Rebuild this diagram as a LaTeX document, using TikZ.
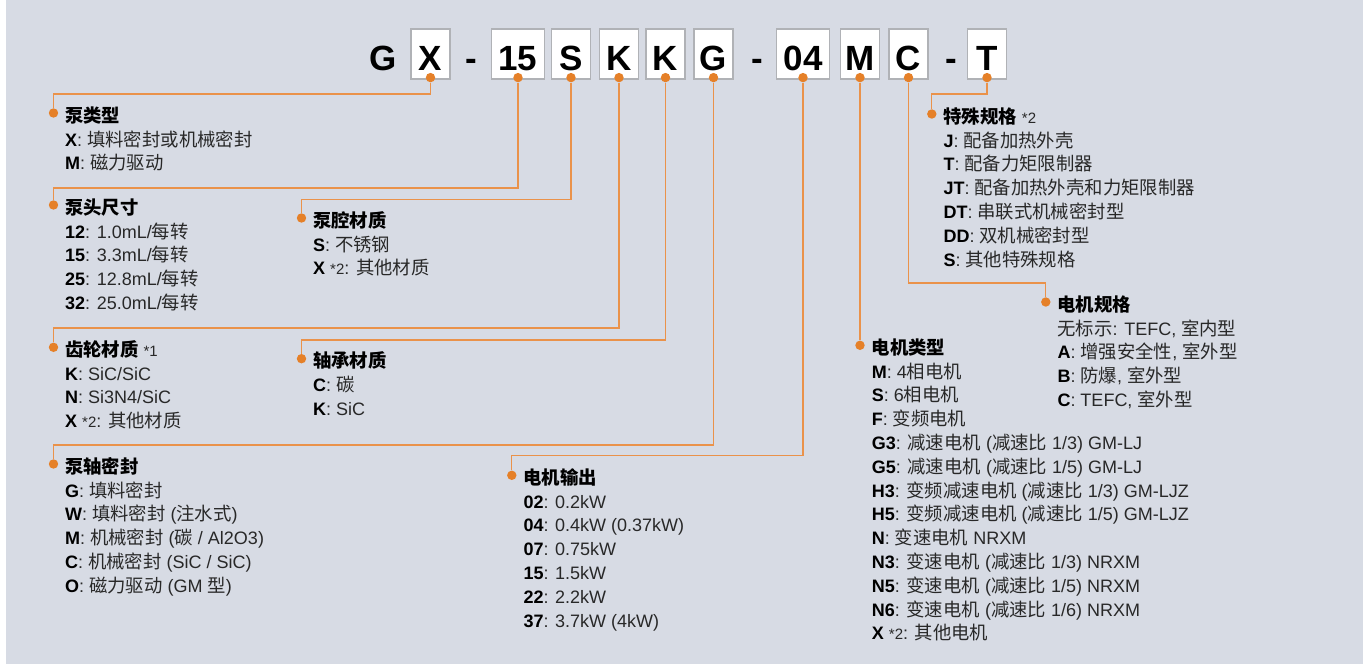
\documentclass[tikz,border=0pt]{standalone}
\usepackage{fontspec}
\setmainfont{Liberation Sans}
\newfontfamily\cjkfont[Scale=1.02]{Noto Sans CJK SC}
\newfontfamily\codefont{Liberation Sans}

% switch to the CJK font for ideographs
\XeTeXinterchartokenstate=1
\newXeTeXintercharclass\cjkclass
\newcount\cjkcode
\cjkcode="4E00
\loop
  \XeTeXcharclass\cjkcode=\cjkclass
  \advance\cjkcode by 1
\ifnum\cjkcode<"A000\repeat
\XeTeXinterchartoks 0 \cjkclass={\begingroup\cjkfont}
\XeTeXinterchartoks 4095 \cjkclass={\begingroup\cjkfont}
\XeTeXinterchartoks \cjkclass 0={\endgroup}
\XeTeXinterchartoks \cjkclass 4095={\endgroup}

\definecolor{panel}{RGB}{215,219,228}
\definecolor{codeorange}{RGB}{229,128,40}
\definecolor{lineorange}{RGB}{234,146,74}
\definecolor{boxgrey}{RGB}{176,178,182}
\definecolor{textgrey}{RGB}{40,40,40}

\newcommand{\hdr}[1]{\rule{0pt}{17pt}{\color{black}\textbf{#1}}}
\newcommand{\key}[1]{{\color{black}\textbf{#1}}}
\newcommand{\note}[1]{{\fontsize{15}{15}\selectfont #1}}

\begin{document}
\begin{tikzpicture}[
    x=1pt, y=-1pt,
    codebox/.style={draw=boxgrey, fill=white, line width=1.2pt, minimum width=39pt, minimum height=50pt,
        inner sep=0pt, text height=32pt, text depth=0pt, font=\codefont\fontsize{35}{35}\selectfont\bfseries},
    widebox/.style={codebox, minimum width=53pt},
    codechar/.style={inner sep=0pt, text height=32pt, text depth=0pt, font=\codefont\fontsize{35}{35}\selectfont\bfseries},
    dotnode/.style={circle, fill=codeorange, inner sep=0pt, minimum size=9.4pt},
    conn/.style={draw=lineorange, line width=1.3pt},
    block/.style={anchor=north west, inner sep=0pt, align=left, font=\fontsize{18}{23.8}\selectfont, text=textgrey}
]
\useasboundingbox (0,0) rectangle (1369,664);
\fill[panel] (6,0) rectangle (1363,664);

% Code row
\node[codechar] (cG) at (383,54) {G};
\node[codebox] (bX) at (430.5,54) {X};
\node[codechar] (dash1) at (471,54) {-};
\node[widebox] (b15) at (518,54) {15};
\node[codebox] (bS) at (571,54) {S};
\node[codebox] (bK1) at (619,54) {K};
\node[codebox] (bK2) at (665.5,54) {K};
\node[codebox] (bG) at (713.5,54) {G};
\node[codechar] (dash2) at (757,54) {-};
\node[widebox] (b04) at (803,54) {04};
\node[codebox] (bM) at (860,54) {M};
\node[codebox] (bC) at (908.5,54) {C};
\node[codechar] (dash3) at (951.5,54) {-};
\node[codebox] (bT) at (987,54) {T};

% Dots on the boxes
\node[dotnode] (pX) at ([yshift=2pt]bX.south) {};
\node[dotnode] (p15) at ([yshift=2pt]b15.south) {};
\node[dotnode] (pS) at ([yshift=2pt]bS.south) {};
\node[dotnode] (pK1) at ([yshift=2pt]bK1.south) {};
\node[dotnode] (pK2) at ([yshift=2pt]bK2.south) {};
\node[dotnode] (pG) at ([yshift=2pt]bG.south) {};
\node[dotnode] (p04) at ([yshift=2pt]b04.south) {};
\node[dotnode] (pM) at ([yshift=2pt]bM.south) {};
\node[dotnode] (pC) at ([yshift=2pt]bC.south) {};
\node[dotnode] (pT) at ([yshift=2pt]bT.south) {};

% Text blocks
\node[block] (pumptype) at (65,105) {\hdr{泵类型}\\
    \key{X}: 填料密封或机械密封\\
    \key{M}: 磁力驱动};
\node[block] (headsize) at (65,197) {\hdr{泵头尺寸}\\
    \key{12}: 1.0mL/每转\\
    \key{15}: 3.3mL/每转\\
    \key{25}: 12.8mL/每转\\
    \key{32}: 25.0mL/每转};
\node[block] (casing) at (313,210) {\hdr{泵腔材质}\\
    \key{S}: 不锈钢\\
    \key{X} \note{*2}: 其他材质};
\node[block] (gearmat) at (65,339) {\hdr{齿轮材质} \note{*1}\\
    \key{K}: SiC/SiC\\
    \key{N}: Si3N4/SiC\\
    \key{X} \note{*2}: 其他材质};
\node[block] (bearing) at (313,350.5) {\hdr{轴承材质}\\
    \key{C}: 碳\\
    \key{K}: SiC};
\node[block] (shaftseal) at (65,456) {\hdr{泵轴密封}\\
    \key{G}: 填料密封\\
    \key{W}: 填料密封 (注水式)\\
    \key{M}: 机械密封 (碳 / Al2O3)\\
    \key{C}: 机械密封 (SiC / SiC)\\
    \key{O}: 磁力驱动 (GM 型)};
\node[block] (motorout) at (523.3,467) {\hdr{电机输出}\\
    \key{02}: 0.2kW\\
    \key{04}: 0.4kW (0.37kW)\\
    \key{07}: 0.75kW\\
    \key{15}: 1.5kW\\
    \key{22}: 2.2kW\\
    \key{37}: 3.7kW (4kW)};
\node[block] (motortype) at (871.7,337) {\hdr{电机类型}\\
    \key{M}: 4相电机\\
    \key{S}: 6相电机\\
    \key{F}: 变频电机\\
    \key{G3}: 减速电机 (减速比 1/3) GM-LJ\\
    \key{G5}: 减速电机 (减速比 1/5) GM-LJ\\
    \key{H3}: 变频减速电机 (减速比 1/3) GM-LJZ\\
    \key{H5}: 变频减速电机 (减速比 1/5) GM-LJZ\\
    \key{N}: 变速电机 NRXM\\
    \key{N3}: 变速电机 (减速比 1/3) NRXM\\
    \key{N5}: 变速电机 (减速比 1/5) NRXM\\
    \key{N6}: 变速电机 (减速比 1/6) NRXM\\
    \key{X} \note{*2}: 其他电机};
\node[block] (motorspec) at (1057.3,294) {\hdr{电机规格}\\
    无标示: TEFC, 室内型\\
    \key{A}: 增强安全性, 室外型\\
    \key{B}: 防爆, 室外型\\
    \key{C}: TEFC, 室外型};
\node[block] (special) at (943.3,106) {\hdr{特殊规格} \note{*2}\\
    \key{J}: 配备加热外壳\\
    \key{T}: 配备力矩限制器\\
    \key{JT}: 配备加热外壳和力矩限制器\\
    \key{DT}: 串联式机械密封型\\
    \key{DD}: 双机械密封型\\
    \key{S}: 其他特殊规格};

% Dots on the headings
\node[dotnode] (dPump) at (53.5,113) {};
\node[dotnode] (dHead) at (53.5,205) {};
\node[dotnode] (dCasing) at (301.5,218) {};
\node[dotnode] (dGear) at (53.5,347.3) {};
\node[dotnode] (dBearing) at (301.5,358.7) {};
\node[dotnode] (dShaft) at (53.5,464) {};
\node[dotnode] (dOut) at (511.8,475.3) {};
\node[dotnode] (dMtype) at (860,345.3) {};
\node[dotnode] (dMspec) at (1045.8,302) {};
\node[dotnode] (dSpecial) at (931.8,114) {};

% Connectors
\draw[conn] (pX) -- ++(0,16.3) -| (dPump);
\draw[conn] (p15) -- ++(0,110.3) -| (dHead);
\draw[conn] (pS) -- ++(0,121.7) -| (dCasing);
\draw[conn] (pK1) -- ++(0,250.3) -| (dGear);
\draw[conn] (pK2) -- ++(0,262.3) -| (dBearing);
\draw[conn] (pG) -- ++(0,367.5) -| (dShaft);
\draw[conn] (p04) -- ++(0,378) -| (dOut);
\draw[conn] (pM) -- (dMtype);
\draw[conn] (pC) -- ++(0,205.5) -| (dMspec);
\draw[conn] (pT) -- ++(0,16.3) -| (dSpecial);

\end{tikzpicture}
\end{document}
